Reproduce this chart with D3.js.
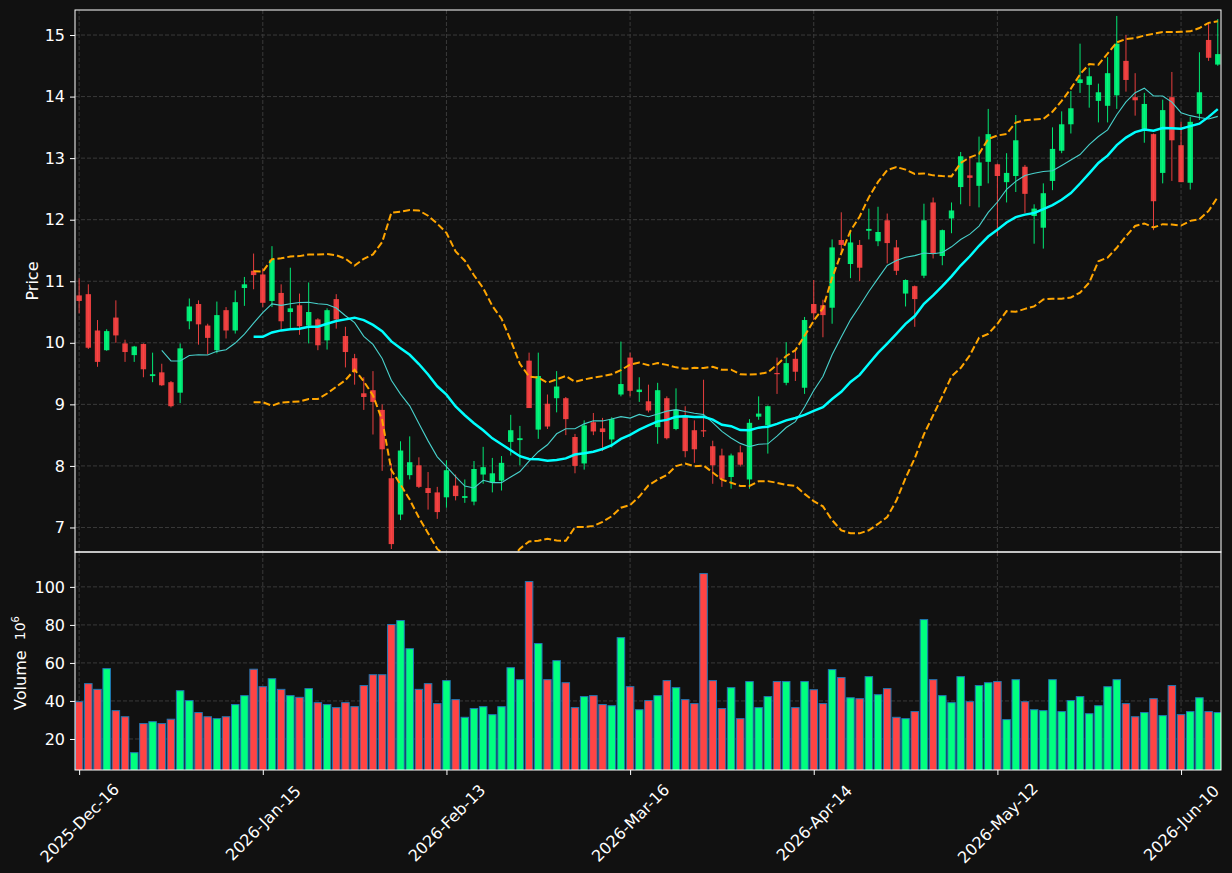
<!DOCTYPE html>
<html><head><meta charset="utf-8">
<script src="https://cdn.jsdelivr.net/npm/d3@7"></script>
<style>html,body{margin:0;padding:0;background:#111;} svg{display:block;}</style>
</head><body>
<script>
// ---- data ----
const opens = [10.77,10.79,10.20,9.88,10.41,9.99,9.80,9.98,9.46,9.52,
9.36,9.19,10.35,10.63,10.28,9.88,10.53,10.20,10.89,11.17,
11.11,10.68,10.81,10.50,10.61,10.28,10.38,10.04,10.71,10.11,
9.75,9.18,9.23,8.91,7.80,7.21,7.85,8.01,7.64,7.57,
7.49,7.68,7.48,7.42,7.86,7.73,7.76,8.39,8.42,9.71,
8.59,9.01,9.10,9.10,8.47,8.04,8.71,8.61,8.43,9.16,
9.76,9.20,9.05,8.63,9.10,8.60,8.82,8.58,8.58,8.32,
8.17,7.82,8.22,7.78,8.80,8.66,9.51,9.35,9.74,9.27,
10.63,10.61,10.57,11.67,11.28,11.59,11.82,11.65,11.99,11.55,
10.80,10.92,11.09,12.28,11.41,12.02,12.53,12.72,12.55,12.94,
12.90,12.61,12.71,12.86,12.06,11.87,12.63,13.12,13.55,14.22,
14.19,13.93,13.85,14.02,14.58,13.99,13.47,13.39,12.76,13.99,
13.21,12.60,13.72,14.92,14.52];
const highs = [11.05,10.95,10.37,10.22,10.69,10.05,9.95,9.99,9.84,9.66,
9.38,9.99,10.72,10.69,10.31,10.67,10.58,10.85,11.07,11.45,
11.21,11.57,10.95,11.22,10.80,10.98,10.40,10.56,10.79,10.26,
9.82,9.44,9.54,9.00,8.04,8.40,8.48,8.14,7.90,7.66,
8.09,7.86,7.78,8.08,8.31,8.13,8.16,8.83,8.65,9.84,
9.84,9.16,9.54,9.12,8.52,8.74,8.86,8.78,8.79,10.02,
9.84,9.44,9.32,9.35,9.13,9.26,8.97,8.74,9.40,8.41,
8.28,8.20,8.33,8.76,9.13,8.98,9.76,10.01,9.88,10.42,
11.02,10.70,11.68,12.12,11.80,11.67,12.18,12.21,12.10,11.67,
11.03,10.93,12.26,12.36,11.84,12.28,13.10,13.02,13.35,13.80,
12.91,13.08,13.70,12.89,12.25,12.59,13.50,13.76,14.09,14.86,
14.47,14.21,14.64,15.31,15.00,14.38,14.06,13.40,13.95,14.40,
13.59,13.67,14.72,15.19,15.26];
const lows = [10.48,9.90,9.61,9.87,10.00,9.69,9.69,9.44,9.36,9.30,
8.95,9.02,10.22,9.97,9.81,9.83,10.07,10.15,10.60,10.87,
10.58,10.58,10.20,10.23,10.13,9.99,9.88,9.89,10.23,9.60,
9.32,8.91,8.51,7.92,6.65,7.12,7.78,7.64,7.29,7.14,
7.32,7.44,7.40,7.36,7.71,7.57,7.60,8.17,8.01,8.94,
8.44,8.60,8.87,8.50,7.88,7.94,8.50,8.24,8.30,9.13,
9.13,9.04,8.87,8.36,8.43,8.58,8.14,8.05,8.47,7.71,
7.66,7.63,7.99,7.63,8.75,8.20,9.17,9.31,9.38,9.17,
10.37,10.09,10.31,11.45,11.05,11.00,11.68,11.57,11.29,11.10,
10.59,10.26,11.05,11.37,11.26,11.78,12.25,12.22,12.20,12.59,
11.73,12.28,12.45,12.11,11.61,11.53,12.48,13.08,13.40,14.06,
13.82,13.58,13.58,13.80,14.08,13.69,13.25,11.83,12.59,12.63,
12.61,12.49,13.62,14.58,14.50];
const closes = [10.68,9.92,9.69,10.19,10.12,9.85,9.94,9.57,9.49,9.31,
8.97,9.91,10.59,10.30,10.08,10.45,10.20,10.66,10.95,11.10,
10.65,11.35,10.35,10.56,10.27,10.50,9.96,10.53,10.38,9.85,
9.53,9.12,9.04,8.27,6.73,8.25,8.06,7.66,7.56,7.25,
7.93,7.51,7.51,7.95,7.98,7.88,8.05,8.58,8.45,8.94,
9.46,8.64,9.29,8.76,8.00,8.66,8.56,8.55,8.76,9.33,
9.22,9.24,8.90,9.23,8.45,8.91,8.24,8.27,8.57,8.01,
7.79,8.17,8.02,8.70,8.85,8.97,9.49,9.67,9.53,10.37,
10.48,10.45,11.55,11.59,11.63,11.22,11.85,11.80,11.62,11.17,
11.02,10.71,11.99,11.45,11.83,12.15,13.03,12.68,12.93,13.39,
12.71,12.76,13.29,12.42,12.18,12.43,13.15,13.55,13.81,14.28,
14.33,14.07,14.38,14.86,14.27,13.94,13.88,12.30,13.78,13.29,
12.61,13.59,14.07,14.63,14.69];
// volume in units of 10^6
const volumes = [39.6,49.1,46.1,57.0,34.9,31.7,12.8,28.1,29.1,28.1,
30.4,45.4,40.2,33.9,31.7,30.7,31.7,38.1,42.8,56.7,
47.5,51.7,46.1,42.8,41.9,46.5,39.1,38.1,36.5,39.1,
37.0,48.1,53.8,53.8,80.2,82.3,67.5,46.1,49.1,38.6,
50.7,40.7,31.4,36.0,37.0,32.8,37.0,57.5,51.2,102.8,
70.2,51.2,61.2,49.6,36.5,42.3,42.8,38.1,37.5,73.3,
47.5,35.4,40.2,42.8,50.7,47.0,40.7,38.6,107.0,50.7,
36.0,47.0,30.7,50.2,36.5,42.3,50.2,50.2,36.5,50.2,
45.9,38.6,56.5,52.3,41.7,41.2,52.8,43.3,46.5,31.4,
30.7,34.4,82.8,51.2,42.8,39.1,52.8,39.6,48.1,49.6,
50.2,30.2,51.2,39.6,35.4,34.9,51.2,34.4,40.2,42.3,
33.3,37.5,47.5,51.2,38.6,31.7,33.9,41.2,32.3,48.1,
32.8,34.4,41.7,34.4,33.9];
const tickIndex = [0,20,40,60,80,100,120];
const tickLabels = ["2025-Dec-16","2026-Jan-15","2026-Feb-13","2026-Mar-16","2026-Apr-14","2026-May-12","2026-Jun-10"];
const priceTicks = [7,8,9,10,11,12,13,14,15];
const volumeTicks = [20,40,60,80,100];
const maShortWindow = 10, maLongWindow = 20, bbWindow = 20, bbK = 2;

// ---- layout ----
const W = 1232, H = 873;
const L = 75, R = 1221, PT = 10, PB = 552, VT = 552, VB = 770;
const BG = "#111111", GRID = "#3a3a3a", FG = "#ffffff";
const UP = "#00ff7f", DOWN = "#ff4444";
const n = closes.length;

const svg = d3.select("body").append("svg").attr("width", W).attr("height", H)
  .style("font-family", "DejaVu Sans, sans-serif");
svg.append("rect").attr("width", W).attr("height", H).attr("fill", BG);

const x = d3.scaleLinear().domain([-0.45, n - 1 + 0.35]).range([L, R]);
const step = x(1) - x(0);
const yP = d3.scaleLinear().domain([6.6016, 15.4065]).range([PB, PT]);
const yV = d3.scaleLinear().domain([3.68, 118.35]).range([VB, VT]);

const defs = svg.append("defs");
defs.append("clipPath").attr("id", "clipP").append("rect").attr("x", L).attr("y", PT).attr("width", R - L).attr("height", PB - PT);
defs.append("clipPath").attr("id", "clipV").append("rect").attr("x", L).attr("y", VT).attr("width", R - L).attr("height", VB - VT);

// grids
function grid(yScale, ticks, top, bottom) {
  const g = svg.append("g");
  g.selectAll("line.h").data(ticks).enter().append("line")
    .attr("x1", L).attr("x2", R).attr("y1", d => yScale(d)).attr("y2", d => yScale(d))
    .attr("stroke", GRID).attr("stroke-width", 1).attr("stroke-dasharray", "4,2");
  g.selectAll("line.v").data(tickIndex).enter().append("line")
    .attr("x1", d => x(d)).attr("x2", d => x(d)).attr("y1", top).attr("y2", bottom)
    .attr("stroke", GRID).attr("stroke-width", 1).attr("stroke-dasharray", "4,2");
}
grid(yP, priceTicks, PT, PB);
grid(yV, volumeTicks, VT, VB);

// indicators
function sma(arr, w) {
  return arr.map((_, i) => i < w - 1 ? null : d3.mean(arr.slice(i - w + 1, i + 1)));
}
function bb(arr, w, k, sign) {
  return arr.map((_, i) => {
    if (i < w - 1) return null;
    const s = arr.slice(i - w + 1, i + 1);
    const m = d3.mean(s);
    const sd = Math.sqrt(d3.mean(s.map(v => (v - m) * (v - m))));
    return m + sign * k * sd;
  });
}
const ma10 = sma(closes, maShortWindow);
const ma20 = sma(closes, maLongWindow);
const bbUp = bb(closes, bbWindow, bbK, 1);
const bbLo = bb(closes, bbWindow, bbK, -1);

const pricePanel = svg.append("g").attr("clip-path", "url(#clipP)");

// candles
const cg = pricePanel.append("g");
const bodyW = 5.4;
d3.range(n).forEach(i => {
  const o = opens[i], c = closes[i], up = c >= o;
  const col = up ? UP : DOWN;
  cg.append("line").attr("x1", x(i)).attr("x2", x(i)).attr("y1", yP(highs[i])).attr("y2", yP(lows[i]))
    .attr("stroke", col).attr("stroke-width", 1).attr("opacity", 0.9);
  const top = yP(Math.max(o, c)), bot = yP(Math.min(o, c));
  cg.append("rect").attr("x", x(i) - bodyW / 2).attr("y", top).attr("width", bodyW)
    .attr("height", Math.max(1.2, bot - top)).attr("fill", col).attr("opacity", 0.9);
});

// lines
const line = d3.line().defined(d => d != null).x((d, i) => x(i)).y(d => yP(d));
pricePanel.append("path").datum(bbUp).attr("d", line).attr("fill", "none")
  .attr("stroke", "#ffa500").attr("stroke-width", 2).attr("stroke-dasharray", "7,3");
pricePanel.append("path").datum(bbLo).attr("d", line).attr("fill", "none")
  .attr("stroke", "#ffa500").attr("stroke-width", 2).attr("stroke-dasharray", "7,3");
pricePanel.append("path").datum(ma10).attr("d", line).attr("fill", "none")
  .attr("stroke", "#48d1cc").attr("stroke-width", 1.1);
pricePanel.append("path").datum(ma20).attr("d", line).attr("fill", "none")
  .attr("stroke", "#00ffff").attr("stroke-width", 2.5);

// volume bars
const volPanel = svg.append("g").attr("clip-path", "url(#clipV)");
const barW = step * 0.82;
volPanel.selectAll("rect").data(volumes).enter().append("rect")
  .attr("x", (d, i) => x(i) - barW / 2).attr("y", d => yV(d))
  .attr("width", barW).attr("height", d => VB + 2 - yV(d))
  .attr("fill", (d, i) => closes[i] >= opens[i] ? UP : DOWN)
  .attr("stroke", "#1f77b4").attr("stroke-width", 1);

// frames
svg.append("rect").attr("x", L).attr("y", PT).attr("width", R - L).attr("height", PB - PT)
  .attr("fill", "none").attr("stroke", FG).attr("stroke-width", 1);
svg.append("rect").attr("x", L).attr("y", VT).attr("width", R - L).attr("height", VB - VT)
  .attr("fill", "none").attr("stroke", FG).attr("stroke-width", 1);

// axes
function styleAxis(g) {
  g.select(".domain").remove();
  g.selectAll(".tick line").attr("stroke", FG);
  g.selectAll(".tick text").attr("fill", FG);
}
svg.append("g").attr("transform", `translate(${L},0)`)
  .call(d3.axisLeft(yP).tickValues(priceTicks).tickSize(5).tickPadding(5).tickFormat(d3.format("d")))
  .call(styleAxis).selectAll("text").style("font-size", "16px").attr("font-family", "DejaVu Sans");
svg.append("g").attr("transform", `translate(${L},0)`)
  .call(d3.axisLeft(yV).tickValues(volumeTicks).tickSize(5).tickPadding(5).tickFormat(d3.format("d")))
  .call(styleAxis).selectAll("text").style("font-size", "16px").attr("font-family", "DejaVu Sans");
const xa = svg.append("g").attr("transform", `translate(0,${VB})`)
  .call(d3.axisBottom(x).tickValues(tickIndex).tickSize(5).tickFormat((d, i) => tickLabels[i]))
  .call(styleAxis);
xa.selectAll(".tick text").attr("y", 0).attr("dy", null)
  .attr("dominant-baseline", "central").attr("text-anchor", "middle")
  .attr("transform", "translate(0,53) rotate(-45)")
  .style("font-size", "16px").attr("font-family", "DejaVu Sans");

// axis labels
svg.append("text").attr("transform", `translate(32,${(PT + PB) / 2}) rotate(-90)`)
  .attr("text-anchor", "middle").attr("dominant-baseline", "central")
  .attr("fill", FG).style("font-size", "16px").text("Price");
const vl = svg.append("text").attr("transform", `translate(20,${(VT + VB) / 2 + 2}) rotate(-90)`)
  .attr("text-anchor", "middle").attr("dominant-baseline", "central")
  .attr("fill", FG).style("font-size", "16px").style("white-space", "pre");
vl.append("tspan").text("Volume  ");
vl.append("tspan").style("font-size", "14px").text("10");
vl.append("tspan").attr("dy", "-0.5em").style("font-size", "10px").text("6");
</script>
</body></html>
